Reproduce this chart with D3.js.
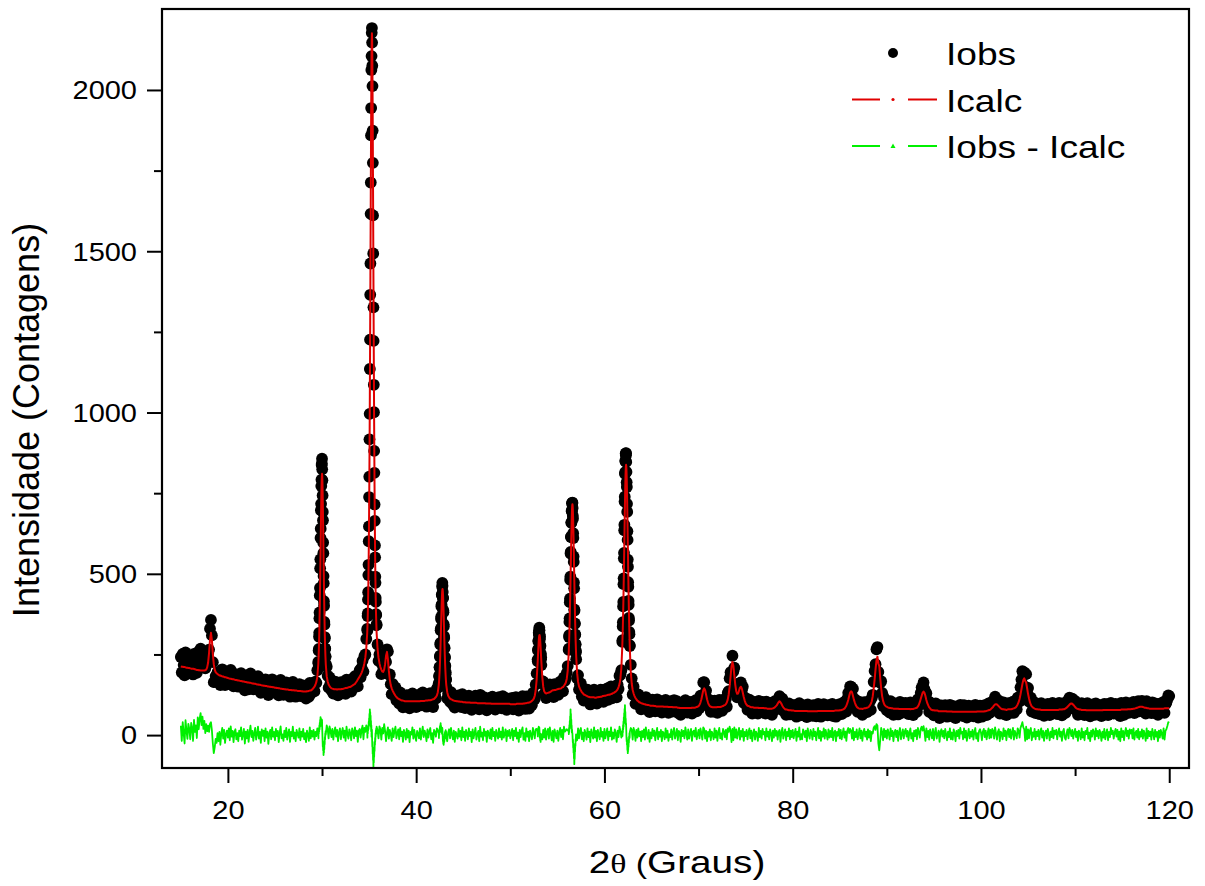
<!DOCTYPE html>
<html><head><meta charset="utf-8">
<script src="https://cdn.jsdelivr.net/npm/d3@7"></script>
<style>body{margin:0;background:#fff}svg{display:block}</style>
</head><body>
<svg id="chart" width="1205" height="886"></svg>
<script>
// Coarse 2θ grid: 15.0° .. 120.0° every 0.1°
const thetaStart = 15.0;
const thetaStep = 0.1;

// Icalc (counts) on the coarse grid, one row per degree
const icalc = [
213,212,212,211,211,210,209,209,208,208,
207,206,206,206,205,204,203,202,202,201,
201,200,200,200,200,200,201,203,210,225,
255,295,317,294,252,220,203,195,192,189,
187,185,185,183,182,182,180,179,179,178,
177,176,175,175,174,173,173,172,171,171,
170,169,169,168,168,167,166,166,165,165,
164,163,163,162,162,161,160,160,159,159,
158,157,157,156,156,155,154,154,153,153,
152,152,151,151,150,150,149,149,148,148,
147,147,146,146,145,145,144,144,143,143,
142,142,141,141,141,140,140,140,139,139,
139,138,138,138,137,137,137,137,136,136,
135,135,135,135,136,136,137,138,138,140,
143,146,150,156,165,180,218,305,470,688,
810,688,470,306,220,182,166,157,152,148,
145,144,143,142,142,142,141,142,142,142,
142,143,143,144,145,146,146,147,148,149,
149,151,153,155,157,159,163,167,172,177,
182,187,193,201,210,223,240,268,317,430,
687,1171,1816,2176,1815,1170,686,427,316,267,
240,223,211,203,197,196,203,220,246,258,
235,199,172,155,145,138,132,127,122,118,
115,113,111,110,108,107,107,106,105,105,
105,105,105,105,105,105,105,105,105,105,
105,105,105,105,105,106,106,106,106,106,
107,107,107,108,108,108,109,110,111,112,
115,118,123,133,155,203,288,395,453,395,
288,203,155,133,122,117,113,111,110,108,
107,106,106,105,105,104,104,103,103,103,
102,102,102,101,101,101,101,101,100,100,
100,100,100,100,100,99,99,99,99,99,
99,99,99,99,98,98,98,98,98,98,
97,97,97,97,97,97,97,97,97,97,
97,97,97,97,97,97,97,97,97,97,
96,96,96,96,96,96,96,97,97,97,
97,97,97,97,98,98,99,99,100,100,
101,102,104,106,109,113,122,139,172,221,
279,309,282,227,180,150,136,131,129,130,
131,132,133,135,137,139,139,140,140,141,
142,143,144,144,145,148,149,153,157,163,
175,200,250,343,484,639,716,637,481,338,
244,192,165,151,144,138,133,130,126,125,
123,122,120,119,118,117,117,117,117,117,
116,116,117,117,118,118,119,119,121,121,
122,122,123,124,125,125,126,127,128,130,
131,133,135,138,142,149,158,175,209,277,
396,568,751,838,748,562,387,266,196,160,
140,129,121,115,111,107,105,102,101,99,
98,97,96,96,94,94,93,93,92,91,
91,91,91,90,90,89,89,89,89,89,
89,89,89,88,88,88,88,88,87,87,
87,87,87,86,86,86,86,86,85,85,
84,84,84,84,84,84,84,84,84,84,
84,84,84,85,85,85,85,86,87,88,
90,94,101,111,125,139,145,139,125,111,
101,94,90,88,87,86,86,86,86,86,
87,87,87,87,88,89,90,92,93,96,
101,110,126,150,181,213,227,214,185,156,
136,128,129,138,147,150,144,131,118,107,
99,94,91,90,89,87,86,86,86,85,
85,85,85,85,84,84,84,84,84,84,
83,83,83,82,82,82,82,82,82,83,
84,86,89,92,97,102,105,102,97,91,
86,83,80,79,79,78,77,77,77,76,
76,76,75,75,75,75,75,75,75,75,
75,75,75,75,75,75,74,74,74,74,
74,74,74,74,74,74,74,75,75,75,
75,75,75,75,75,75,75,75,75,75,
75,75,75,75,75,76,76,76,76,76,
77,77,78,79,80,82,86,91,99,109,
121,132,136,133,122,110,101,93,88,85,
83,82,82,82,81,82,83,83,84,85,
86,88,92,97,105,120,143,171,204,232,
243,222,214,176,145,121,106,97,92,89,
88,86,85,84,84,83,83,82,82,82,
82,82,82,81,81,81,81,81,81,81,
81,81,81,81,81,80,81,81,81,82,
83,84,85,89,94,102,112,122,131,135,
131,121,109,99,92,86,83,79,78,77,
77,76,76,76,76,74,74,74,74,74,
74,74,74,74,73,73,73,73,73,73,
72,72,72,72,72,72,72,72,72,72,
72,72,72,72,72,72,72,72,72,72,
72,72,72,72,72,72,73,73,73,73,
73,73,73,73,74,74,75,76,77,78,
79,82,85,88,92,95,96,95,92,89,
86,83,81,80,80,79,79,78,79,80,
80,80,80,81,82,83,84,86,90,95,
102,112,126,142,158,171,176,168,163,146,
128,114,102,94,89,86,84,82,81,80,
80,79,79,79,78,78,78,78,78,78,
78,78,78,78,78,78,78,78,78,78,
78,78,78,79,79,79,79,80,80,81,
83,85,88,91,94,97,98,97,94,91,
87,84,82,81,80,79,79,78,78,78,
78,78,77,77,77,77,77,77,77,77,
77,77,77,77,77,77,77,77,77,77,
78,78,78,78,78,78,78,78,78,78,
78,78,78,78,78,78,78,78,78,79,
79,79,79,79,79,79,80,80,80,80,
81,81,82,82,83,84,85,86,87,88,
88,88,87,86,85,85,84,83,83,82,
82,82,82,82,82,82,82,82,82,82,
82,82,82,82,82,83,83,83,83,83,
83
];

// Iobs - Icalc (counts) on the coarse grid
const residual = [
29,-18,40,6,-26,46,14,-12,35,19,
-13,38,22,-18,47,10,30,-9,55,18,
50,68,31,57,19,44,6,34,12,29,
10,35,40,15,-26,-56,-38,-12,-24,6,
-19,10,-30,5,22,-11,16,-24,3,14,
-8,21,-16,27,-5,13,-22,10,18,-13,
6,-19,14,-3,24,-14,2,19,-26,11,
-10,16,-21,8,29,-6,13,-18,5,22,
-14,3,26,-11,10,-24,18,-2,14,-19,
21,-8,11,-27,6,16,-13,24,-5,10,
-16,19,-3,13,-22,8,27,-10,2,-18,
14,-6,22,-14,5,18,-21,10,-3,26,
-11,8,-19,16,3,-8,21,-16,11,-5,
19,-13,6,-22,14,2,-18,24,-10,13,
-5,16,-14,10,-3,21,8,18,31,52,
45,-18,-55,-28,14,30,18,-10,27,14,
-6,19,-14,11,24,-5,16,-19,8,21,
-13,10,22,-8,14,-18,26,3,-11,18,
6,-16,21,11,-10,24,-3,14,-21,13,
19,-8,16,29,-13,22,10,30,35,48,
62,80,55,16,-98,-60,-21,14,27,14,
-10,27,18,-14,22,5,34,13,-19,8,
24,-11,16,3,-18,21,-6,13,26,-10,
5,18,-13,22,-3,11,-21,16,6,-14,
19,-8,14,-22,10,2,24,-11,16,-5,
-18,13,5,-10,21,-14,8,26,-6,14,
3,-19,18,-8,11,22,-13,6,-24,16,
10,-5,21,14,22,37,18,28,20,-24,
-30,-9,8,-19,8,18,-10,22,3,-13,
14,-21,10,2,-11,19,-5,13,-16,24,
-6,11,-18,16,5,-13,21,-3,10,-22,
18,-10,6,22,-14,3,13,-19,26,-5,
8,-16,19,-2,11,-21,14,5,-10,18,
-13,22,-3,10,-18,16,2,-11,21,-6,
11,-14,24,-8,3,18,-19,13,-2,16,
-10,5,19,-16,14,-3,22,-11,8,-21,
16,-6,13,24,-14,6,-18,21,-5,11,
-19,14,2,-13,22,8,-10,18,19,12,
28,24,6,-19,-13,16,-8,21,-14,10,
19,-11,24,5,-16,13,-21,18,3,-10,
14,-18,8,22,-6,16,-13,26,11,14,
18,14,34,58,80,42,10,-44,-90,-52,
-18,-16,21,-10,14,22,-13,8,-19,16,
5,-14,21,-6,11,-22,18,3,-11,24,
-8,13,-19,16,2,-13,22,-5,10,-18,
19,-10,6,21,-16,11,-3,24,-14,8,
-11,18,5,-21,14,-6,26,13,-8,19,
31,58,93,36,-21,-56,-33,8,22,16,
-14,22,10,-18,16,-8,21,-3,11,-19,
13,-6,18,-14,24,3,-11,16,-21,8,
-10,19,-2,14,-16,6,22,-13,10,-5,
16,-19,11,5,-13,21,-8,14,-18,3,
-6,18,-14,10,22,-11,2,19,-16,13,
8,-21,16,-3,13,-10,24,5,-14,18,
-11,6,19,-18,10,14,-5,22,-13,3,
16,-10,21,6,-14,24,19,-11,13,-19,
10,-5,18,-16,11,3,-13,21,-8,14,
-18,8,22,-10,5,-14,19,11,-6,16,
-13,21,10,26,14,-22,19,-16,24,-8,
18,-11,6,22,-14,13,-5,19,-18,10,
-3,16,-13,8,21,-10,14,-19,5,18,
-14,11,3,-18,22,-6,13,-11,19,2,
10,-16,21,-5,11,-13,18,6,-19,14,
-8,19,-2,13,-14,10,16,-21,8,22,
-11,5,18,-16,10,-3,21,-13,14,-6,
16,-10,6,19,-18,11,-5,24,-14,3,
-13,18,10,-6,14,-19,21,2,-11,16,
8,-14,19,-3,11,-16,6,22,-10,13,
-18,10,-5,21,-11,16,3,-14,18,-8,
13,-6,22,-16,8,14,-19,10,-2,19,
-10,16,-13,5,21,-8,11,-18,14,22,
6,19,14,-11,22,-16,10,-6,18,-13,
3,21,-10,14,-18,8,19,-5,11,-14,
18,-8,13,-19,10,5,22,28,16,34,
30,-26,-47,-14,22,10,-16,19,-6,14,
-11,18,5,-14,21,-3,13,-19,8,16,
-6,14,-18,10,22,-13,3,18,-10,11,
19,-5,13,-16,8,21,-11,6,-19,14,
-3,16,-13,22,10,-8,19,26,14,28,
11,-18,21,-6,13,-14,18,5,-10,19,
-16,8,22,-11,3,14,-21,10,18,-5,
13,-10,19,2,-16,11,-6,21,-13,8,
-14,18,6,-19,13,-3,16,-11,22,5,
10,-13,21,-8,14,-18,3,19,-10,11,
-5,16,-14,10,22,-11,6,-19,13,18,
8,-16,11,19,-6,14,-13,5,21,-10,
16,-8,19,13,-11,24,6,-14,10,18,
-19,11,5,-13,21,-3,14,-16,10,19,
-6,18,-11,8,22,-14,13,3,-10,21,
14,-8,22,30,40,24,18,-18,26,-13,
18,-10,14,22,-16,8,-5,19,-13,11,
-3,16,-14,10,21,-8,13,-18,6,14,
-11,19,5,-16,11,-6,22,-10,14,2,
16,-13,8,21,-5,11,-18,10,19,-8,
-14,6,18,-10,22,13,-3,16,-11,8,
19,-6,11,-18,14,5,-13,21,-8,10,
-16,13,3,22,-11,8,-19,14,-5,18,
10,-14,21,-3,13,-10,16,6,-18,11,
-8,19,-13,5,18,-16,10,-6,22,3,
14,-11,8,19,-5,16,-14,11,-19,21,
-6,13,-16,10,22,-3,14,-11,18,5,
16,-10,21,-14,6,13,-8,19,-13,10,
-5,18,-11,14,3,-18,21,-10,13,-3,
11,-14,19,6,-13,16,-5,10,-19,14,
-8,16,5,-11,21,-14,13,18,28,40,
38
];

// Finer 0.02° sampling across the strongest reflections
const fineStep = 0.02;
const fineStarts = [29.6, 34.8, 42.4, 52.9, 56.2, 61.9];

const fine30Calc = [219,232,246,263,283,306,332,362,395,431,470,512,555,600,645,688,727,761,788,804,810,804,788,761,727,688,645,600,555,512,470,431,395,362,332,306,283,263,246,232,219];
const fine30Res = [8,-10,16,4,22,11,30,18,38,25,47,33,56,40,52,29,45,31,49,38,47,20,2,-18,-35,-22,-48,-36,-62,-41,-55,-30,-44,-19,-28,-6,-14,5,-3,12,2];

const fine35Calc = [317,332,351,372,398,429,466,509,560,619,686,764,851,948,1055,1171,1294,1424,1556,1688,1815,1932,2032,2110,2159,2176,2159,2110,2032,1932,1815,1688,1556,1424,1294,1171,1055,948,851,764,686,619,560,509,466,429,398,372,351,332,317];
const fine35Res = [12,-8,18,5,22,14,30,19,41,28,52,37,66,48,80,55,71,38,60,25,44,12,30,-5,18,16,-12,-35,-20,-58,-41,-77,-63,-98,-72,-85,-54,-67,-38,-49,-22,-31,-9,-18,6,-4,15,3,21,8,26];

const fine43Calc = [155,162,170,180,191,203,217,233,250,268,288,309,331,353,374,395,414,430,443,450,453,450,443,430,414,395,374,353,331,309,288,268,250,233,217,203,191,180,170,162,155];
const fine43Res = [6,-9,14,2,19,8,26,13,31,18,37,22,29,14,25,9,21,4,17,22,10,-6,-18,-5,-27,-14,-30,-16,-24,-8,-19,3,-11,9,-4,12,-2,15,1,11,-6];

const fine53Calc = [222,233,246,258,269,280,291,299,305,309,310,310,306,300,292,283,272,261,249,238,227];
const fine53Res = [12,-4,17,8,22,14,26,11,19,24,15,2,-9,5,-17,-6,-21,-8,-14,3,-10];

const fine57Calc = [250,265,282,300,320,343,368,395,423,452,483,516,548,580,610,639,665,686,702,712,716,712,702,685,664,638,609,578,545,513,480,449,419,391,363,338,315,294,276,259,244];
const fine57Res = [14,3,22,10,31,19,44,28,58,39,80,52,66,35,48,21,30,8,17,7,5,-8,-22,-14,-38,-27,-55,-41,-72,-58,-90,-63,-74,-45,-52,-26,-34,-12,-20,2,-9];

const fine62Calc = [277,297,317,341,368,395,426,459,493,529,567,605,643,681,717,751,779,804,822,834,838,833,821,803,777,748,714,678,639,600,562,523,487,452,419,387,359,332,307,286,266];
const fine62Res = [12,-3,20,9,31,18,42,27,55,36,68,47,81,58,93,64,72,44,51,33,36,14,-5,-19,-8,-31,-22,-46,-34,-56,-40,-49,-27,-36,-15,-24,-4,-12,6,-7,10];

const fineCalc = [fine30Calc, fine35Calc, fine43Calc, fine53Calc, fine57Calc, fine62Calc];
const fineRes = [fine30Res, fine35Res, fine43Res, fine53Res, fine57Res, fine62Res];

const xDomain = [13, 122.1];
const yDomain = [-102, 2251];
const xTicksMajor = [20, 40, 60, 80, 100, 120];
const xTicksMinor = [30, 50, 70, 90, 110];
const yTicksMajor = [0, 500, 1000, 1500, 2000];
const yTicksMinor = [250, 750, 1250, 1750];
const seriesNames = ["Iobs", "Icalc", "Iobs - Icalc"];
const xTitleParts = ["2", "θ", " (", "Graus)"];
const yTitle = "Intensidade (Contagens)";

// ---------- assemble rows ----------
const fineRanges = fineStarts.map((s, k) => [s - 1e-6, s + (fineCalc[k].length - 1) * fineStep + 1e-6]);
const inFine = t => fineRanges.some(([a, b]) => t >= a && t <= b);

let rows = [];
const nCoarse = Math.min(icalc.length, residual.length);
for (let i = 0; i < nCoarse; i++) {
  const t = +(thetaStart + i * thetaStep).toFixed(3);
  if (!inFine(t)) rows.push({t, calc: icalc[i], res: residual[i]});
}
fineStarts.forEach((s, k) => {
  const m = Math.min(fineCalc[k].length, fineRes[k].length);
  for (let j = 0; j < m; j++) {
    rows.push({t: +(s + j * fineStep).toFixed(3), calc: fineCalc[k][j], res: fineRes[k][j]});
  }
});
rows.sort((a, b) => a.t - b.t);
rows.forEach(d => { d.obs = d.calc + d.res; });

// ---------- drawing ----------
const svg = d3.select("#chart");
const box = {left: 162, right: 1189, top: 9, bottom: 768};
const FONT = "'Liberation Sans', Arial, Helvetica, sans-serif";
const STRETCH = 1.16;
const RED = "#e00000", GREEN = "#00f000";

const x = d3.scaleLinear().domain(xDomain).range([box.left, box.right]);
const y = d3.scaleLinear().domain(yDomain).range([box.bottom, box.top]);

svg.append("defs").append("clipPath").attr("id", "clip")
  .append("rect").attr("x", box.left).attr("y", box.top)
  .attr("width", box.right - box.left).attr("height", box.bottom - box.top);

const plot = svg.append("g").attr("clip-path", "url(#clip)");

plot.append("g").selectAll("circle").data(rows).join("circle")
  .attr("cx", d => x(d.t)).attr("cy", d => y(d.obs)).attr("r", 5.9)
  .attr("fill", "#000");

plot.append("path").datum(rows)
  .attr("fill", "none").attr("stroke", RED).attr("stroke-width", 2)
  .attr("stroke-linejoin", "round")
  .attr("d", d3.line().x(d => x(d.t)).y(d => y(d.calc)));

plot.append("path").datum(rows)
  .attr("fill", "none").attr("stroke", GREEN).attr("stroke-width", 1.8)
  .attr("stroke-linejoin", "round")
  .attr("d", d3.line().x(d => x(d.t)).y(d => y(d.res)));

// axes
function styleAxis(g) {
  g.select(".domain").remove();
  g.selectAll(".tick line").attr("stroke", "#000").attr("stroke-width", 2);
  g.selectAll("text").attr("font-family", FONT).attr("font-size", 25).attr("fill", "#000");
}
const gx = svg.append("g").attr("transform", `translate(0,${box.bottom})`)
  .call(d3.axisBottom(x).tickValues(xTicksMajor).tickSize(15).tickSizeOuter(0).tickFormat(d3.format("d")));
styleAxis(gx);
gx.selectAll("text").attr("y", 51).attr("dy", null).attr("transform", `scale(${STRETCH},1)`);

const gxm = svg.append("g").attr("transform", `translate(0,${box.bottom})`)
  .call(d3.axisBottom(x).tickValues(xTicksMinor).tickSize(8).tickSizeOuter(0).tickFormat(() => ""));
styleAxis(gxm);

const gy = svg.append("g").attr("transform", `translate(${box.left},0)`)
  .call(d3.axisLeft(y).tickValues(yTicksMajor).tickSize(15).tickSizeOuter(0).tickFormat(d3.format("d")));
styleAxis(gy);
gy.selectAll("text").attr("x", -25 / STRETCH).attr("dy", "0.35em").attr("transform", `scale(${STRETCH},1)`);

const gym = svg.append("g").attr("transform", `translate(${box.left},0)`)
  .call(d3.axisLeft(y).tickValues(yTicksMinor).tickSize(8).tickSizeOuter(0).tickFormat(() => ""));
styleAxis(gym);

// frame
svg.append("rect").attr("x", box.left).attr("y", box.top)
  .attr("width", box.right - box.left).attr("height", box.bottom - box.top)
  .attr("fill", "none").attr("stroke", "#000").attr("stroke-width", 2.2);

// axis titles
const xt = svg.append("text").attr("font-family", FONT).attr("font-size", 32)
  .attr("text-anchor", "middle").attr("transform", `translate(677,873) scale(1.21,1)`);
xt.append("tspan").text(xTitleParts[0]);
xt.append("tspan").attr("font-family", "'Liberation Serif','DejaVu Serif',serif").attr("font-size", 28).text(xTitleParts[1]);
xt.append("tspan").attr("font-size", 28).text(xTitleParts[2]);
xt.append("tspan").text(xTitleParts[3]);

svg.append("text").attr("font-family", FONT).attr("font-size", 36)
  .attr("text-anchor", "middle")
  .attr("transform", `translate(39,420) rotate(-90)`)
  .text(yTitle);

// legend
const legend = svg.append("g");
const rowsY = [53, 99.5, 146];
seriesNames.forEach((name, i) => {
  const g = legend.append("g").attr("transform", `translate(0,${rowsY[i]})`);
  if (i === 0) {
    g.append("circle").attr("cx", 893).attr("cy", 0).attr("r", 5).attr("fill", "#000");
  } else {
    const col = i === 1 ? RED : GREEN;
    g.append("line").attr("x1", 852).attr("x2", 880).attr("y1", 0).attr("y2", 0).attr("stroke", col).attr("stroke-width", 2);
    g.append("line").attr("x1", 908).attr("x2", 937).attr("y1", 0).attr("y2", 0).attr("stroke", col).attr("stroke-width", 2);
    if (i === 1) g.append("circle").attr("cx", 893).attr("cy", 0).attr("r", 1.6).attr("fill", col);
    else g.append("path").attr("d", "M893,-2.5L895.5,2L890.5,2Z").attr("fill", col);
  }
  g.append("text").attr("font-family", FONT).attr("font-size", 32)
    .attr("transform", `translate(946,12) scale(${STRETCH},1)`).text(name);
});
</script>
</body></html>
